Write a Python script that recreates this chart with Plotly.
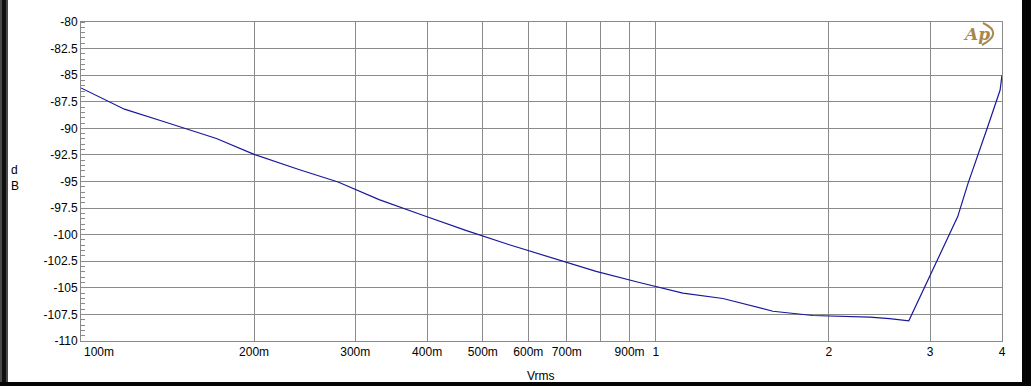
import plotly.graph_objects as go

# ---- data ----
vrms = [0.1, 0.119, 0.140, 0.172, 0.200, 0.240, 0.280, 0.330, 0.392, 0.467,
        0.556, 0.661, 0.787, 0.936, 1.114, 1.308, 1.598, 1.875, 2.355, 2.55,
        2.754, 3.35, 3.49, 3.78, 3.97, 4.0]
db = [-86.2, -88.2, -89.4, -90.95, -92.45, -93.9, -95.05, -96.7, -98.15, -99.6,
      -100.95, -102.2, -103.45, -104.5, -105.5, -106.0, -107.2, -107.6, -107.75, -107.9,
      -108.1, -98.3, -95.2, -89.8, -86.4, -85.0]

x_tickvals = [0.1, 0.2, 0.3, 0.4, 0.5, 0.6, 0.7, 0.8, 0.9, 1, 2, 3, 4]
x_ticktext = ["", "200m", "300m", "400m", "500m", "600m", "700m", "", "900m", "1", "2", "3", "4"]
y_tickvals = [-80, -82.5, -85, -87.5, -90, -92.5, -95, -97.5, -100, -102.5, -105, -107.5, -110]
y_ticktext = ["-80", "-82.5", "-85", "-87.5", "-90", "-92.5", "-95", "-97.5", "-100",
              "-102.5", "-105", "-107.5", "-110"]

W, H = 1031, 386
L, R, T, B = 81, 29, 22, 45
pw, ph = W - L - R, H - T - B

def px(xp):
    return (xp - L) / pw

def py(yp):
    return (H - B - yp) / ph

grid = "#8a8a8a"
font = "Liberation Sans, Arial, sans-serif"

fig = go.Figure()
fig.add_trace(go.Scatter(x=vrms, y=db, mode="lines",
                         line=dict(color="#18189a", width=1.2), showlegend=False))

fig.update_layout(
    width=W, height=H,
    margin=dict(l=L, r=R, t=T, b=B),
    paper_bgcolor="white", plot_bgcolor="white",
    font=dict(family=font, size=12, color="black"),
    xaxis=dict(type="log", range=[-1, 0.60206], tickvals=x_tickvals, ticktext=x_ticktext,
               showgrid=True, gridcolor=grid, gridwidth=1, showline=True, linecolor=grid,
               linewidth=1, mirror=True, ticks="", zeroline=False,
               tickfont=dict(family=font, size=12, color="black")),
    yaxis=dict(range=[-110, -80], tickvals=y_tickvals, ticktext=y_ticktext,
               showgrid=True, gridcolor=grid, gridwidth=1, showline=True, linecolor=grid,
               linewidth=1, mirror=True, ticks="", zeroline=False, ticklabelstandoff=0,
               tickfont=dict(family=font, size=12, color="black"),
               minor=dict(dtick=0.5, ticks="inside", ticklen=4, tickcolor=grid,
                          showgrid=False)),
)

annotations = [
    dict(x=-1, xref="x", y=py(352), yref="paper", text="100m", showarrow=False,
         xanchor="left", yanchor="middle", xshift=1, font=dict(family=font, size=12)),
    dict(x=px(541), xref="paper", y=py(376), yref="paper", text="Vrms", showarrow=False,
         xanchor="center", yanchor="middle", font=dict(family=font, size=12)),
    dict(x=px(15), xref="paper", y=py(178), yref="paper", text="d<br>B", showarrow=False,
         xanchor="center", yanchor="middle", align="left", font=dict(family=font, size=12)),
    dict(x=px(976), xref="paper", y=py(34), yref="paper", text="<i><b>Ap</b></i>",
         showarrow=False, xanchor="center", yanchor="middle",
         font=dict(family="DejaVu Serif, serif", size=17, color="#a8884a")),
]
fig.update_layout(annotations=annotations)

shapes = [
    # left dark frame strip
    dict(type="rect", xref="paper", yref="paper", x0=px(0), x1=px(8), y0=py(H), y1=py(0),
         fillcolor="#4a4a4a", line=dict(width=0), layer="above"),
    dict(type="rect", xref="paper", yref="paper", x0=px(2), x1=px(6), y0=py(H), y1=py(0),
         fillcolor="#101010", line=dict(width=0), layer="above"),
    # right frame strip
    dict(type="rect", xref="paper", yref="paper", x0=px(1022), x1=px(W), y0=py(H), y1=py(0),
         fillcolor="#050505", line=dict(width=0), layer="above"),
    # bottom frame strip
    dict(type="rect", xref="paper", yref="paper", x0=px(0), x1=px(W), y0=py(H), y1=py(382),
         fillcolor="#050505", line=dict(width=0), layer="above"),
    # logo arc
    dict(type="path", xref="paper", yref="paper",
         path=f"M {px(983)},{py(23)} Q {px(1004)},{py(33)} {px(982)},{py(45)}",
         line=dict(color="#a8884a", width=2), layer="above"),
]
fig.update_layout(shapes=shapes)

fig.write_html(
    "out.html",
    config={"displayModeBar": False},
    post_script="document.body.style.margin='0';document.body.style.padding='0';"
                "document.body.style.overflow='hidden';",
)
